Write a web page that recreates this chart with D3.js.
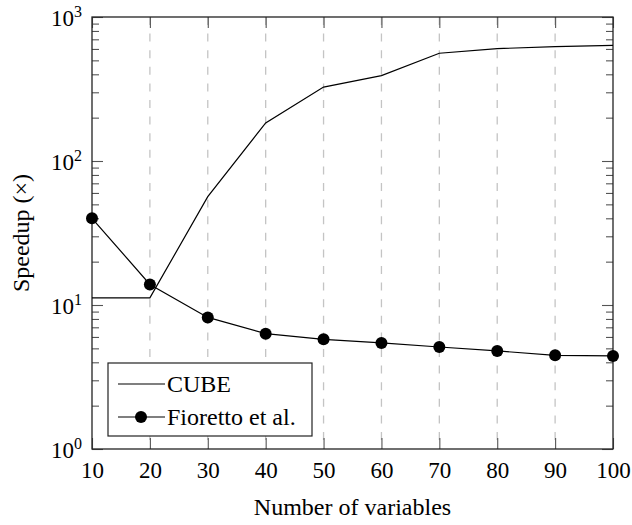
<!DOCTYPE html>
<html>
<head>
<meta charset="utf-8">
<script src="https://cdn.jsdelivr.net/npm/d3@7"></script>
<style>
  body { margin: 0; background: #fff; }
  text { font-family: "Liberation Serif"; }
</style>
</head>
<body>
<script>
// data
var variables = [10, 20, 30, 40, 50, 60, 70, 80, 90, 100];
var cube = [11.2, 11.2, 56.5, 184, 326, 392, 560, 603, 622, 636];
var fioretto = [40, 13.9, 8.2, 6.32, 5.78, 5.45, 5.11, 4.80, 4.47, 4.43];
var seriesNames = ["CUBE", "Fioretto et al."];
var xTicks = [10, 20, 30, 40, 50, 60, 70, 80, 90, 100];
var yExponents = [0, 1, 2, 3];

var width = 632, height = 525;
var margin = { left: 92, right: 19, top: 17, bottom: 76 };
var serif = "Liberation Serif";

var svg = d3.select("body")
  .append("svg")
  .attr("width", width)
  .attr("height", height);

var x = d3.scaleLinear()
  .domain([10, 100])
  .range([margin.left, width - margin.right]);

var y = d3.scaleLog()
  .domain([1, 1000])
  .range([height - margin.bottom, margin.top]);

var plotW = x.range()[1] - x.range()[0];
var plotH = y.range()[0] - y.range()[1];

// vertical dashed grid
svg.append("g")
  .selectAll("line")
  .data(xTicks.slice(1, -1))
  .join("line")
    .attr("x1", d => x(d))
    .attr("x2", d => x(d))
    .attr("y1", y(1000))
    .attr("y2", y(1))
    .attr("stroke", "#c4c4c4")
    .attr("stroke-width", 1.3)
    .attr("stroke-dasharray", "8,8.6");

// minor ticks for log axis
var minorTicks = [];
[1, 10, 100].forEach(function(base) {
  for (var k = 2; k <= 9; k++) minorTicks.push(base * k);
});
var majorTicks = yExponents.map(e => Math.pow(10, e));

function styleAxis(g) {
  g.attr("font-family", null);
  g.select(".domain").remove();
  g.selectAll(".tick line").attr("stroke", "#555").attr("stroke-width", 1.1);
}

// bottom axis
svg.append("g")
  .attr("transform", "translate(0," + y(1) + ")")
  .call(d3.axisBottom(x).tickValues(xTicks).tickSize(-11).tickPadding(13).tickFormat(d3.format("d")))
  .call(styleAxis)
  .call(g => g.selectAll(".tick text")
    .style("font-family", serif)
    .style("font-size", "23px")
    .attr("fill", "#000")
    .attr("dy", "0.71em"));

// top axis (ticks only)
svg.append("g")
  .attr("transform", "translate(0," + y(1000) + ")")
  .call(d3.axisTop(x).tickValues(xTicks).tickSize(-11).tickFormat(""))
  .call(styleAxis);

// left axis minor + major
svg.append("g")
  .attr("transform", "translate(" + x(10) + ",0)")
  .call(d3.axisLeft(y).tickValues(minorTicks).tickSize(-7).tickFormat(""))
  .call(styleAxis);
svg.append("g")
  .attr("transform", "translate(" + x(10) + ",0)")
  .call(d3.axisLeft(y).tickValues(majorTicks).tickSize(-11).tickFormat(""))
  .call(styleAxis);

// right axis minor + major
svg.append("g")
  .attr("transform", "translate(" + x(100) + ",0)")
  .call(d3.axisRight(y).tickValues(minorTicks).tickSize(-7).tickFormat(""))
  .call(styleAxis);
svg.append("g")
  .attr("transform", "translate(" + x(100) + ",0)")
  .call(d3.axisRight(y).tickValues(majorTicks).tickSize(-11).tickFormat(""))
  .call(styleAxis);

// y tick labels 10^n
var ylab = svg.append("g")
  .selectAll("text")
  .data(yExponents)
  .join("text")
    .attr("x", x(10) - 10)
    .attr("y", d => y(Math.pow(10, d)) + 9)
    .attr("text-anchor", "end")
    .style("font-family", serif)
    .style("font-size", "23px");
ylab.append("tspan").text("10");
ylab.append("tspan")
  .style("font-size", "16px")
  .attr("dy", -9)
  .text(d => d);

// frame
svg.append("rect")
  .attr("x", x(10))
  .attr("y", y(1000))
  .attr("width", plotW)
  .attr("height", plotH)
  .attr("fill", "none")
  .attr("stroke", "#222")
  .attr("stroke-width", 1.3);

var line = d3.line()
  .x((d, i) => x(variables[i]))
  .y(d => y(d));

svg.append("path")
  .datum(cube)
  .attr("d", line)
  .attr("fill", "none")
  .attr("stroke", "#000")
  .attr("stroke-width", 1.2);

svg.append("path")
  .datum(fioretto)
  .attr("d", line)
  .attr("fill", "none")
  .attr("stroke", "#000")
  .attr("stroke-width", 1.2);

svg.append("g")
  .selectAll("circle")
  .data(fioretto)
  .join("circle")
    .attr("cx", (d, i) => x(variables[i]))
    .attr("cy", d => y(d))
    .attr("r", 6)
    .attr("fill", "#000");

// axis titles
svg.append("text")
  .attr("x", x(55))
  .attr("y", 515)
  .attr("text-anchor", "middle")
  .style("font-family", serif)
  .style("font-size", "24px")
  .text("Number of variables");

svg.append("text")
  .attr("transform", "translate(29," + (margin.top + plotH / 2) + ") rotate(-90)")
  .attr("text-anchor", "middle")
  .style("font-family", serif)
  .style("font-size", "24px")
  .text("Speedup (\u00d7)");

// legend
var legend = svg.append("g").attr("transform", "translate(108,363)");
legend.append("rect")
  .attr("width", 204)
  .attr("height", 73)
  .attr("fill", "#fff")
  .attr("stroke", "#222")
  .attr("stroke-width", 1.2);

var item = legend.selectAll("g.item")
  .data(seriesNames)
  .join("g")
    .attr("class", "item")
    .attr("transform", (d, i) => "translate(0," + (21 + i * 33) + ")");

item.append("line")
  .attr("x1", 10)
  .attr("x2", 57)
  .attr("stroke", "#000")
  .attr("stroke-width", 1.2);

item.filter((d, i) => i === 1)
  .append("circle")
  .attr("cx", 33)
  .attr("r", 6)
  .attr("fill", "#000");

item.append("text")
  .attr("x", 59)
  .attr("y", 8)
  .style("font-family", serif)
  .style("font-size", "24px")
  .text(d => d);
</script>
</body>
</html>
